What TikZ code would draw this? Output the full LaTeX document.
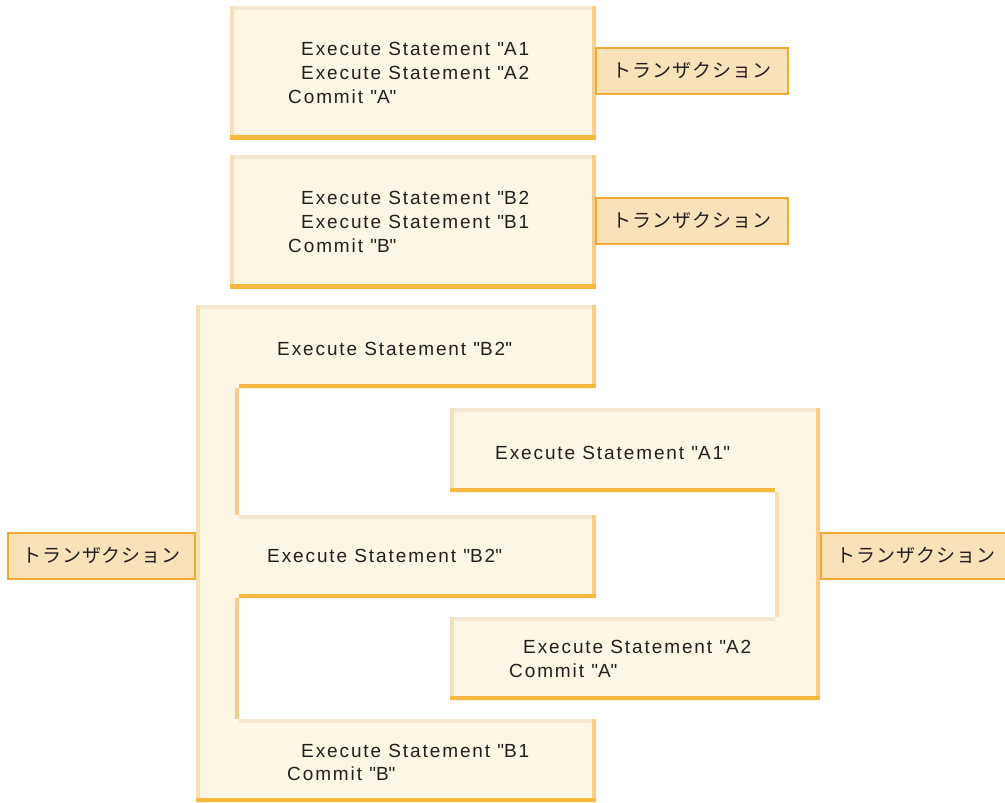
\documentclass[tikz,border=0pt]{standalone}
\usepackage{fontspec}
\setmainfont{Liberation Sans}[LetterSpace=10]
\newfontfamily\jpfont{Noto Sans CJK JP}[LetterSpace=5]
\usepackage{tikz}
\usetikzlibrary{positioning}
\definecolor{boxfill}{HTML}{FDF6E4}
\definecolor{edgetop}{HTML}{F5E8D3}
\definecolor{edgeleft}{HTML}{F5DEB8}
\definecolor{edgeside}{HTML}{F7CF8C}
\definecolor{edgebot}{HTML}{F6B940}
\definecolor{labfill}{HTML}{F9E1B8}
\definecolor{labline}{HTML}{F0A935}
\definecolor{txt}{HTML}{231F20}
\newcommand{\qt}{\textquotedbl}
\tikzset{
  stmt/.style={anchor=base west, inner sep=0pt, text=txt, font=\fontsize{19}{23}\selectfont},
  trans/.style={draw=labline, line width=2pt, fill=labfill, text=txt, inner sep=0pt,
    minimum height=46pt, font=\jpfont\fontsize{19}{22}\selectfont},
  bev/.style={line width=8pt}
}
\newcommand{\plainbox}[4]{%
  \fill[boxfill] (#1,#2) rectangle (#3,#4);
  \begin{scope}
    \clip (#1,#2) rectangle (#3,#4);
    \draw[bev, edgetop] (#1,#2) -- (#3,#2);
    \draw[bev, edgeleft] (#1,#2) -- (#1,#4);
    \draw[bev, edgeside] (#3,#2) -- (#3,#4);
    \draw[bev, edgebot] (#1,#4) -- (#3,#4);
  \end{scope}}
\begin{document}
\begin{tikzpicture}[x=1pt, y=-1pt]
\useasboundingbox (0,0) rectangle (1005,803);
% two single transactions
\plainbox{230}{6}{596}{139}
\plainbox{230}{155}{596}{288}
\node[stmt] (a1) at (301,55) {Execute Statement \qt A1};
\node[stmt] (a2) at (301,79) {Execute Statement \qt A2};
\node[stmt] (ca) at (288,103) {Commit \qt A\qt};
\node[stmt] (b2) at (301,204) {Execute Statement \qt B2};
\node[stmt] (b1) at (301,228) {Execute Statement \qt B1};
\node[stmt] (cb) at (288,252) {Commit \qt B\qt};
\node[trans, minimum width=192pt] (labA) at (692,70.5) {トランザクション};
\node[trans, minimum width=192pt] (labB) at (692,220.5) {トランザクション};
% interleaved B
\def\shapeB{(196,305) -- (596,305) -- (596,388) -- (239,388) -- (239,515) -- (596,515) -- (596,598) -- (239,598) -- (239,719) -- (596,719) -- (596,802) -- (196,802) -- cycle}
\fill[boxfill] \shapeB;
\begin{scope}
  \clip \shapeB;
  \draw[bev, edgetop] (196,305) -- (596,305) (239,515) -- (596,515) (239,719) -- (596,719);
  \draw[bev, edgeleft] (196,305) -- (196,802);
  \draw[bev, edgeside] (596,305) -- (596,388) (239,388) -- (239,515) (596,515) -- (596,598)
    (239,598) -- (239,719) (596,719) -- (596,802);
  \draw[bev, edgebot] (596,388) -- (239,388) (596,598) -- (239,598) (596,802) -- (196,802);
\end{scope}
% interleaved A
\def\shapeA{(450,408) -- (820,408) -- (820,700) -- (450,700) -- (450,617) -- (775,617) -- (775,492) -- (450,492) -- cycle}
\fill[boxfill] \shapeA;
\begin{scope}
  \clip \shapeA;
  \draw[bev, edgetop] (450,408) -- (820,408) (450,617) -- (775,617);
  \draw[bev, edgeleft] (450,408) -- (450,492) (450,617) -- (450,700) (775,492) -- (775,617);
  \draw[bev, edgeside] (820,408) -- (820,700);
  \draw[bev, edgebot] (775,492) -- (450,492) (820,700) -- (450,700);
\end{scope}
\node[stmt] (ib2a) at (277,355) {Execute Statement \qt B2\qt};
\node[stmt] (ia1) at (495,459) {Execute Statement \qt A1\qt};
\node[stmt] (ib2b) at (267,562) {Execute Statement \qt B2\qt};
\node[stmt] (ia2) at (523,653) {Execute Statement \qt A2};
\node[stmt] (ica) at (509,677) {Commit \qt A\qt};
\node[stmt] (ib1) at (301,757) {Execute Statement \qt B1};
\node[stmt] (icb) at (287,780) {Commit \qt B\qt};
\node[trans, minimum width=187pt] (labL) at (101.5,555.5) {トランザクション};
\node[trans, minimum width=190pt] (labR) at (916,555.5) {トランザクション};
\end{tikzpicture}
\end{document}
